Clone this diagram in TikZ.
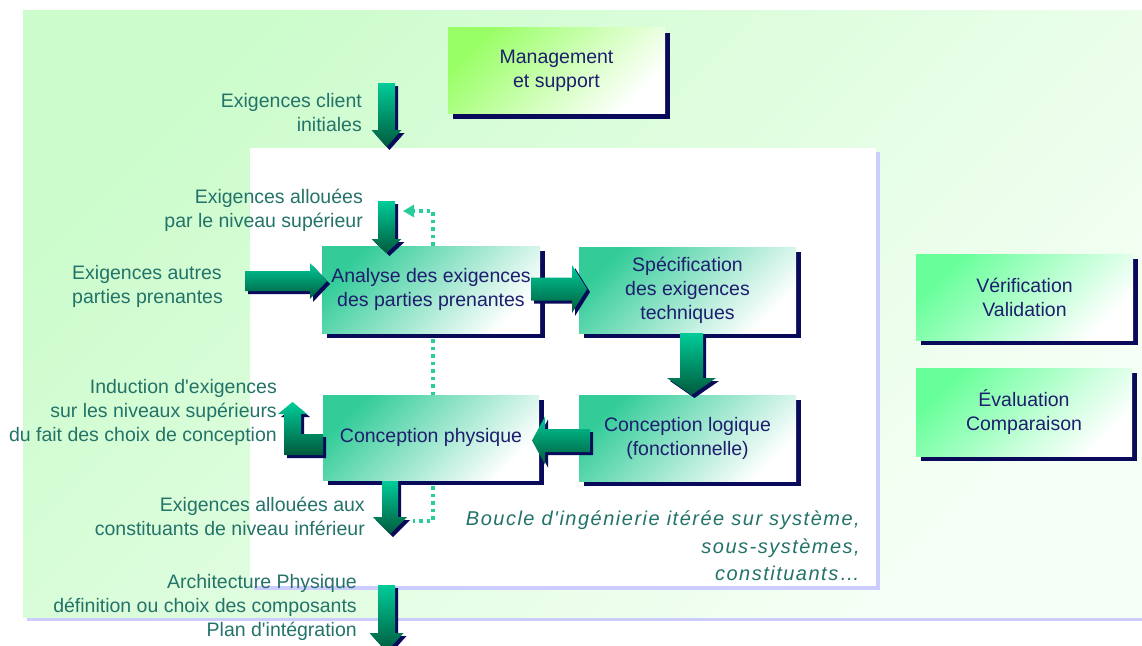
\documentclass[tikz,border=0pt]{standalone}
\usepackage{fontspec}
\setmainfont{Liberation Sans}
\newfontfamily\lbf{Liberation Sans}
\newfontfamily\bcf{Liberation Sans}[LetterSpace=7.5]
\usetikzlibrary{shadows,arrows.meta}
\definecolor{bgA}{RGB}{204,252,204}
\definecolor{bgB}{RGB}{246,255,246}
\definecolor{lav}{RGB}{204,204,255}
\definecolor{tealA}{RGB}{51,204,153}
\definecolor{limeA}{RGB}{153,255,102}
\definecolor{mintA}{RGB}{102,255,153}
\definecolor{navyS}{RGB}{10,10,90}
\definecolor{navyT}{RGB}{30,30,110}
\definecolor{lblc}{RGB}{35,115,105}
\definecolor{arrT}{RGB}{0,204,153}
\definecolor{arrB}{RGB}{0,90,60}
\definecolor{dotc}{RGB}{40,205,155}
\tikzset{
  bx/.style={minimum width=217pt, minimum height=86pt, inner sep=0pt, align=center,
    font=\lbf\fontsize{19.5}{24}\selectfont, text=navyT,
    drop shadow={fill=navyS, opacity=1, shadow xshift=5pt, shadow yshift=-5pt}},
  tealbox/.style={bx, left color=tealA, right color=white, shading angle=45},
  limebox/.style={bx, left color=limeA, right color=white, shading angle=45},
  mintbox/.style={bx, left color=mintA, right color=white, shading angle=45},
  lbl/.style={inner sep=0pt, font=\lbf\fontsize{19.5}{24}\selectfont, text=lblc},
  dotl/.style={draw=dotc, line width=3.5pt, dash pattern=on 3.5pt off 4pt},
  arrsh/.style={fill=navyS},
  arrfill/.style={top color=arrT, bottom color=arrB},
}
% down arrow: cx, ytop, ytip, halfshaft, halfhead, headlength
\newcommand\ArrD[6]{%
  \fill[arrsh,shift={(3,3)}] (#1-#4,#2) -- (#1+#4,#2) -- (#1+#4,#3-#6) -- (#1+#5,#3-#6) -- (#1,#3) -- (#1-#5,#3-#6) -- (#1-#4,#3-#6) -- cycle;
  \shade[arrfill] (#1-#4,#2) -- (#1+#4,#2) -- (#1+#4,#3-#6) -- (#1+#5,#3-#6) -- (#1,#3) -- (#1-#5,#3-#6) -- (#1-#4,#3-#6) -- cycle;}
% right arrow: xleft, xtip, cy, halfshaft, halfhead, headlength
\newcommand\ArrR[6]{%
  \fill[arrsh,shift={(3,3)}] (#1,#3-#4) -- (#2-#6,#3-#4) -- (#2-#6,#3-#5) -- (#2,#3) -- (#2-#6,#3+#5) -- (#2-#6,#3+#4) -- (#1,#3+#4) -- cycle;
  \shade[arrfill] (#1,#3-#4) -- (#2-#6,#3-#4) -- (#2-#6,#3-#5) -- (#2,#3) -- (#2-#6,#3+#5) -- (#2-#6,#3+#4) -- (#1,#3+#4) -- cycle;}
% left arrow: xright, xtip, cy, halfshaft, halfhead, headlength
\newcommand\ArrL[6]{%
  \fill[arrsh,shift={(3,3)}] (#1,#3-#4) -- (#2+#6,#3-#4) -- (#2+#6,#3-#5) -- (#2,#3) -- (#2+#6,#3+#5) -- (#2+#6,#3+#4) -- (#1,#3+#4) -- cycle;
  \shade[arrfill] (#1,#3-#4) -- (#2+#6,#3-#4) -- (#2+#6,#3-#5) -- (#2,#3) -- (#2+#6,#3+#5) -- (#2+#6,#3+#4) -- (#1,#3+#4) -- cycle;}
\begin{document}
\begin{tikzpicture}[x=1pt,y=-1pt]
\useasboundingbox (0,0) rectangle (1142,645);
% background panels
\fill[lav] (27,14) rectangle (1142,621);
\shade[left color=bgA,right color=bgB,shading angle=45] (23,10) rectangle (1142,617);
\fill[lav] (254,152) rectangle (880,590);
\fill[white] (250,148) rectangle (876,586);
% boxes
\node[limebox] (mgmt) at (556.5,70.5) {Management\\et support};
\node[tealbox, minimum width=218pt, minimum height=87pt] (analyse) at (431,289.5) {Analyse des exigences\\des parties prenantes};
\node[tealbox] (spec) at (687.5,290) {Spécification\\des exigences\\techniques};
\node[tealbox] (logique) at (687.5,438) {Conception logique\\(fonctionnelle)};
\node[tealbox, minimum width=216pt, minimum height=85pt] (physique) at (431,437.5) {Conception physique};
\node[mintbox] (verif) at (1024.5,297) {Vérification\\Validation};
\node[mintbox, minimum width=216pt, minimum height=88pt] (eval) at (1024,412) {Évaluation\\Comparaison};
% dotted loop
\coordinate (fbk) at (403,211);
\coordinate (lowend) at (413,521);
\draw[dotl, -{Triangle[length=11pt,width=12pt]}] ([xshift=2pt]analyse.north) |- (fbk);
\draw[dotl] ([xshift=2pt,yshift=-6pt]analyse.south) -- ([xshift=2pt]physique.north);
\draw[dotl] ([xshift=2pt,yshift=-6pt]physique.south) |- (lowend);
% block arrows
\ArrD{386.5}{83}{147}{8.5}{15}{17}
\ArrD{386.5}{201}{253}{8.5}{15}{14}
\ArrR{245}{327}{281}{10}{18}{17}
\ArrR{531}{587}{289}{11.5}{24}{15}
\ArrD{691.5}{333}{395}{11.5}{24.5}{17}
\ArrL{590}{532}{440.5}{11.5}{24}{13}
\ArrD{390}{481}{534}{8}{17}{17}
\ArrD{386.5}{585}{652}{8.5}{17}{19}
% L-shaped arrow
\fill[arrsh,shift={(3,3)}] (323,434) -- (301,434) -- (301,414) -- (307,414) -- (292.5,402) -- (278,414) -- (284,414) -- (284,455) -- (323,455) -- cycle;
\shade[arrfill] (323,434) -- (301,434) -- (301,414) -- (307,414) -- (292.5,402) -- (278,414) -- (284,414) -- (284,455) -- (323,455) -- cycle;
% labels
\node[lbl, anchor=north east, align=right] (lclient) at (362,93) {Exigences client\\initiales};
\node[lbl, anchor=north east, align=right] (lalloc) at (363,189) {Exigences allouées\\par le niveau supérieur};
\node[lbl, anchor=north west, align=left] (lautres) at (72,265) {Exigences autres\\parties prenantes};
\node[lbl, anchor=north east, align=right] (linduc) at (277,379) {Induction d'exigences\\sur les niveaux supérieurs\\du fait des choix de conception};
\node[lbl, anchor=north east, align=right] (lallinf) at (365,497) {Exigences allouées aux\\constituants de niveau inférieur};
\node[lbl, anchor=north east, align=right] (larch) at (357,574) {Architecture Physique\\définition ou choix des composants\\Plan d'intégration};
\node[inner sep=0pt, anchor=north east, align=right, text=lblc, font=\bcf\itshape\fontsize{20}{27.5}\selectfont] (lboucle) at (860,511) {Boucle d'ingénierie itérée sur système,\\sous-systèmes,\\constituants…};
\end{tikzpicture}
\end{document}
